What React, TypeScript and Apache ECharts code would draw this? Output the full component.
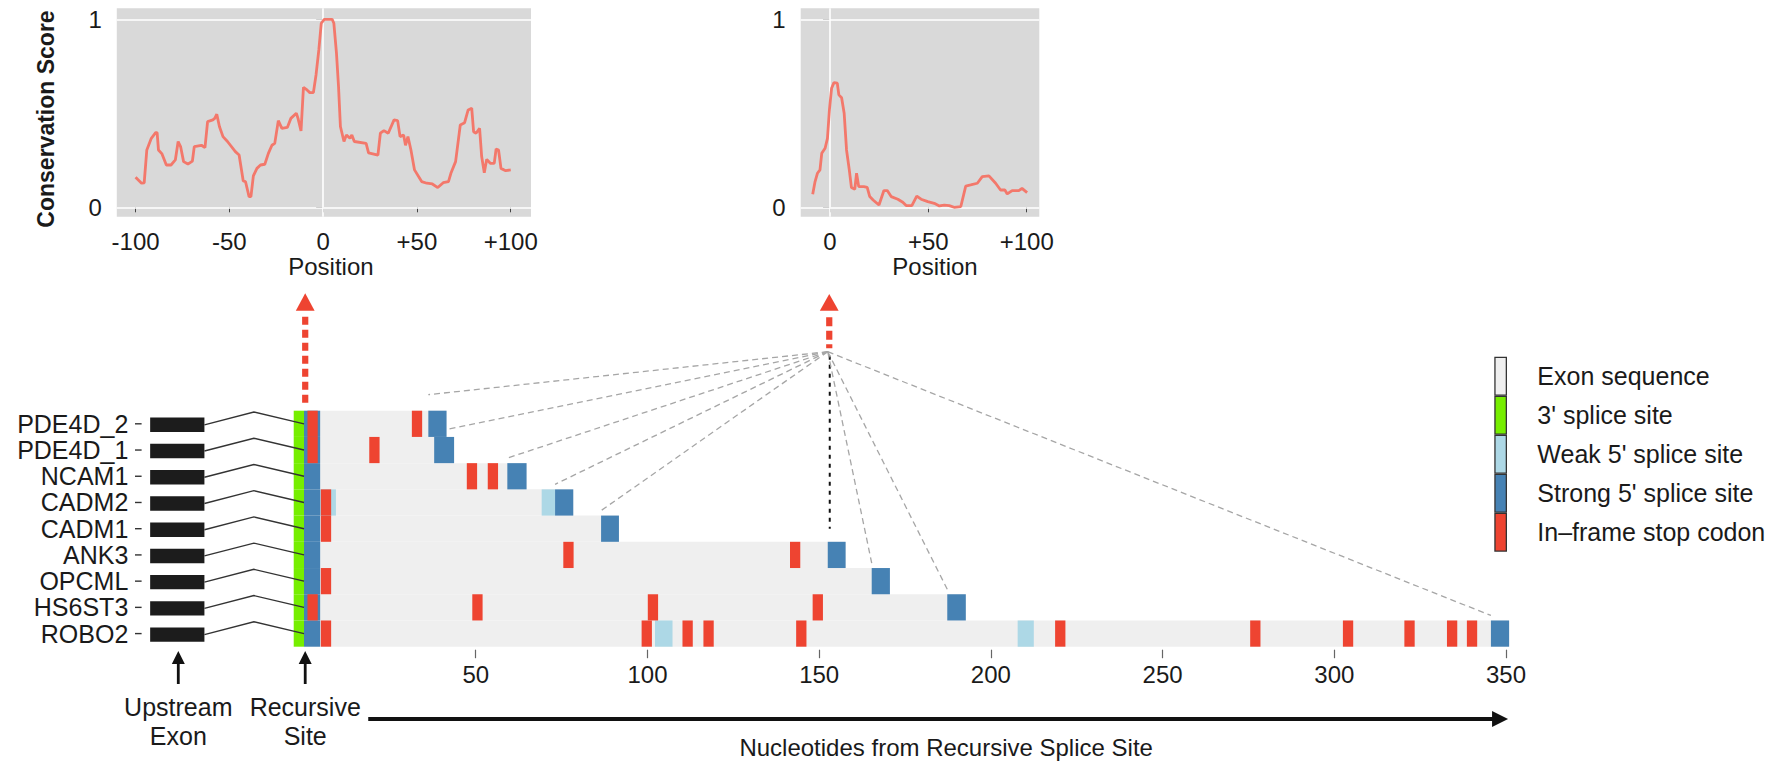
import React, { useEffect, useRef } from 'react';
import * as echarts from 'echarts';

// ---------------- data ----------------
const GENES = ['PDE4D_2', 'PDE4D_1', 'NCAM1', 'CADM2', 'CADM1', 'ANK3', 'OPCML', 'HS6ST3', 'ROBO2'];
const EXON_END = [41.5, 43.7, 64.8, 78.4, 91.7, 157.7, 170.6, 192.7, 350.9];
const STRONG_5SS_START = [36.2, 37.9, 59.2, 73.1, 86.5, 152.5, 165.3, 187.3, 345.6];
const STOP_CODON_START = [
  [1, 31.4],
  [1, 19.0],
  [47.4, 53.5],
  [4.9],
  [4.9],
  [75.5, 141.5],
  [4.9],
  [1, 49.0, 100.1, 148.1],
  [4.9, 98.3, 110.2, 116.3, 143.3, 218.7, 275.5, 302.5, 320.4, 332.8, 338.6],
];
const WEAK_5SS = [
  [],
  [],
  [],
  [[4.7, 9.3], [69.2, 73.1]],
  [],
  [],
  [],
  [],
  [[102.2, 107.3], [207.8, 212.5]],
];
const RECURSIVE_3SS = [-3, 0];
const RECURSIVE_5SS = [0, 4.7];
const CODON_LENGTH = 3;
const FOCUS_GENE = 'ANK3';
const NT_TICKS = [50, 100, 150, 200, 250, 300, 350];

const LEFT_POSITION = [
  -100, -96.8, -95.4, -94, -91.6, -89.3, -88.5, -87.8, -85.9, -83.6, -81.1, -78.8, -77.3, -76, -74.4, -72.1,
  -69.7, -68.7, -64.9, -63, -61.6, -58.8, -57.8, -56.7, -55.3, -53.4, -51, -46.8, -44.8, -42.6, -41.4, -39.5,
  -38.5, -37.2, -35.3, -33.4, -31.1, -29.2, -27.3, -25.8, -23.9, -22, -19.1, -17.2, -14.3, -13.4, -11.8, -10.5,
  -8.6, -7.1, -5.2, -3.8, -2.3, -1, 0.6, 4.8, 5.7, 7.1, 8.2, 9.2, 11.1, 12.4, 14.3, 15.3, 16.6, 22.9, 24.2,
  29.2, 30.5, 32.4, 34.7, 37.8, 39.7, 41, 42.9, 43.9, 45.2, 46.8, 48.7, 52.5, 55.3, 58.2, 61.1, 64, 66.8,
  68.1, 70.6, 73.1, 75.4, 77.3, 79.2, 80.2, 81.5, 83.4, 84.5, 85.9, 87.2, 89.1, 91.2, 92.2, 93.5, 94.8, 97.3, 100,
];
const LEFT_SCORE = [
  0.16, 0.128, 0.13, 0.305, 0.367, 0.397, 0.397, 0.305, 0.284, 0.225, 0.225, 0.252, 0.35, 0.323, 0.243, 0.23,
  0.246, 0.323, 0.33, 0.317, 0.456, 0.465, 0.473, 0.495, 0.43, 0.376, 0.35, 0.296, 0.278, 0.14, 0.137, 0.057,
  0.057, 0.167, 0.207, 0.225, 0.229, 0.287, 0.33, 0.34, 0.461, 0.42, 0.425, 0.473, 0.5, 0.473, 0.406, 0.638,
  0.624, 0.61, 0.61, 0.704, 0.837, 0.979, 1.0, 1.0, 0.979, 0.82, 0.642, 0.43, 0.35, 0.385, 0.367, 0.385, 0.35, 0.34, 0.29,
  0.278, 0.394, 0.408, 0.394, 0.465, 0.461, 0.376, 0.385, 0.33, 0.376, 0.305, 0.199, 0.137, 0.128, 0.124, 0.105, 0.131, 0.137,
  0.181, 0.243, 0.438, 0.45, 0.518, 0.527, 0.402, 0.394, 0.42, 0.27, 0.184, 0.255, 0.234, 0.234, 0.31, 0.305, 0.207, 0.195, 0.199,
];
const RIGHT_POSITION = [
  -8.8, -7.6, -6.4, -5.1, -4.2, -2.5, -1.3, -0.3, 0.8, 2, 3.7, 4.5, 5.9, 7.2, 8.4, 9.8, 10.9, 12.6, 13.5, 14.6,
  17.2, 18.9, 20.2, 21.9, 24.9, 27.4, 29.1, 31.1, 34.5, 37, 38.7, 41.6, 44.1, 46.3, 49.7, 53, 55.6, 58.1, 60.6,
  63.1, 66.5, 69, 71.5, 74.9, 77.4, 80.8, 84.2, 86.7, 88.9, 90.1, 92.6, 96, 97.6, 100.2,
];
const RIGHT_SCORE = [
  0.069, 0.137, 0.181, 0.199, 0.287, 0.314, 0.367, 0.518, 0.633, 0.663, 0.66, 0.598, 0.583, 0.5, 0.305, 0.199,
  0.105, 0.096, 0.181, 0.11, 0.11, 0.106, 0.057, 0.039, 0.012, 0.089, 0.089, 0.057, 0.043, 0.027, 0.009, 0.009,
  0.06, 0.043, 0.03, 0.021, 0.007, 0.012, 0.009, 0.0, 0.004, 0.113, 0.119, 0.128, 0.163, 0.167, 0.128, 0.092,
  0.092, 0.071, 0.089, 0.089, 0.101, 0.078,
];
const LEFT_TICKS = [-100, -50, 0, 50, 100];
const RIGHT_TICKS = [0, 50, 100];
const SCORE_TICKS = [0, 1];
const LEGEND_NAMES = [
  'Exon sequence',
  "3' splice site",
  "Weak 5' splice site",
  "Strong 5' splice site",
  'In\u2013frame stop codon',
];

// ---------------- style ----------------
const FONT = '"Liberation Sans", Arial, Helvetica, sans-serif';
const TXT = '#1a1a1a';
const C_EXON = '#efefef';
const C_3SS = '#76ee00';
const C_WEAK = '#add8e6';
const C_STRONG = '#4682b4';
const C_STOP = '#ee4431';
const C_LINE = '#f3786b';
const UPSTREAM_SPAN = [-44.8, -29.0];
const INTRON_APEX = -14.6;

const signed = (v: number) => (v > 0 ? '+' + v : String(v));

const barRender = (params: any, api: any) => {
  const s = api.value(0);
  const e = api.value(1);
  const r = api.value(2);
  const a = api.coord([s, r]);
  const b = api.coord([e, r]);
  const h = api.size([0, 1])[1];
  return {
    type: 'rect',
    shape: { x: a[0], y: a[1] - h / 2, width: Math.max(b[0] - a[0], 0.5), height: h },
    style: { fill: api.visual('color') },
  };
};

const schematicRender = (params: any, api: any) => {
  const r = api.value(2);
  const a = api.coord([api.value(0), r]);
  const b = api.coord([api.value(1), r]);
  const apex = api.coord([INTRON_APEX, r]);
  const z = api.coord([0, r]);
  const h = api.size([0, 1])[1];
  const bh = h * 0.55;
  const gl = params.coordSys.x;
  return {
    type: 'group',
    children: [
      { type: 'line', shape: { x1: gl - 7.6, y1: a[1], x2: gl - 1, y2: a[1] }, style: { stroke: '#333', lineWidth: 1.4 } },
      { type: 'rect', shape: { x: a[0], y: a[1] - bh / 2 + 1, width: b[0] - a[0], height: bh }, style: { fill: '#1c1c1c' } },
      {
        type: 'polyline',
        shape: { points: [[b[0], a[1] + 1], [apex[0], a[1] - h * 0.45], [z[0], a[1]]] },
        style: { stroke: '#333', lineWidth: 1.4, fill: 'none' },
      },
    ],
  };
};

const linkRender = (params: any, api: any) => {
  const focus = GENES.indexOf(FOCUS_GENE);
  const conv = api.coord([STRONG_5SS_START[focus], 0]);
  const h = api.size([0, 1])[1];
  const gridTop = conv[1] - h / 2;
  const cy = gridTop - 59;
  const idx = params.dataIndex;
  const end = api.coord([api.value(0), api.value(1)]);
  const gap = idx === focus ? 13 : idx === 0 ? 16 : 5;
  const ey = end[1] - h / 2 - gap;
  if (idx === focus) {
    return {
      type: 'line',
      shape: { x1: conv[0] + 2, y1: cy + 4, x2: end[0] + 2, y2: ey },
      style: { stroke: '#111', lineWidth: 2, lineDash: [4, 5] },
    };
  }
  return {
    type: 'line',
    shape: { x1: conv[0], y1: cy, x2: end[0], y2: ey },
    style: { stroke: '#a6a6a6', lineWidth: 1.3, lineDash: [6, 4] },
  };
};

const buildOption = () => {
  const exonData = GENES.map((g, i) => [0, EXON_END[i], i]);
  const ss3Data = GENES.map((g, i) => [RECURSIVE_3SS[0], RECURSIVE_3SS[1], i]);
  const weakData: number[][] = [];
  WEAK_5SS.forEach((list, i) => list.forEach((w) => weakData.push([w[0], w[1], i])));
  const strongData: number[][] = [];
  GENES.forEach((g, i) => {
    strongData.push([RECURSIVE_5SS[0], RECURSIVE_5SS[1], i]);
    strongData.push([STRONG_5SS_START[i], EXON_END[i], i]);
  });
  const stopData: number[][] = [];
  STOP_CODON_START.forEach((list, i) => list.forEach((s) => stopData.push([s, s + CODON_LENGTH, i])));
  const schematicData = GENES.map((g, i) => [UPSTREAM_SPAN[0], UPSTREAM_SPAN[1], i]);
  const linkData = GENES.map((g, i) => [STRONG_5SS_START[i], i]);

  const topX = (gridIndex: number, min: number, max: number, ticks: number[], pad: number) => ({
    gridIndex,
    type: 'value',
    min,
    max,
    axisLine: { show: false },
    axisTick: { show: true, length: 5, customValues: ticks, lineStyle: { color: '#444', width: 1 } },
    axisLabel: { customValues: ticks, formatter: (v: number) => signed(v), fontSize: 24, color: TXT, margin: 13, fontFamily: FONT },
    splitLine: { show: false },
    name: 'Position',
    nameLocation: 'middle',
    nameGap: 38,
    nameTextStyle: { fontSize: 24, color: TXT, fontFamily: FONT, padding: [0, 0, 0, pad] },
  });
  const topY = (gridIndex: number, withName: boolean) => ({
    gridIndex,
    type: 'value',
    min: -0.05,
    max: 1.0585,
    axisLine: { show: false },
    axisTick: { show: true, length: 7, customValues: SCORE_TICKS, lineStyle: { color: '#444', width: 1 } },
    axisLabel: { customValues: SCORE_TICKS, fontSize: 24, color: TXT, margin: 15, fontFamily: FONT },
    splitLine: { show: false },
    ...(withName
      ? {
          name: 'Conservation Score',
          nameLocation: 'middle',
          nameRotate: 90,
          nameGap: 59,
          nameTextStyle: { fontSize: 23, fontWeight: 'bold', color: TXT, fontFamily: FONT, padding: [0, 13, 0, 0] },
        }
      : {}),
  });
  const whiteLines = () => ({
    silent: true,
    symbol: 'none',
    z: 1,
    label: { show: false },
    lineStyle: { color: '#ffffff', width: 1.6, type: 'solid' },
    data: [{ yAxis: 0 }, { yAxis: 1 }, { xAxis: 0 }],
  });
  const bars = (name: string, color: string, data: number[][]) => ({
    type: 'custom',
    name,
    xAxisIndex: 2,
    yAxisIndex: 2,
    silent: true,
    itemStyle: { color },
    renderItem: barRender,
    encode: { x: [0, 1], y: 2 },
    data,
  });

  return {
    animation: false,
    textStyle: { fontFamily: FONT },
    grid: [
      { left: 116.8, top: 8.3, width: 414.2, height: 208.4, show: true, backgroundColor: '#d9d9d9', borderWidth: 0, outerBoundsMode: 'none' },
      { left: 800.7, top: 8.3, width: 238.6, height: 208.4, show: true, backgroundColor: '#d9d9d9', borderWidth: 0, outerBoundsMode: 'none' },
      { left: 142.6, top: 410.7, width: 1380.6, height: 236, outerBoundsMode: 'none' },
    ],
    xAxis: [
      topX(0, -110, 110.8, LEFT_TICKS, 14),
      topX(1, -14.9, 106.4, RIGHT_TICKS, 30),
      {
        gridIndex: 2,
        type: 'value',
        min: -47,
        max: 355,
        offset: 3,
        axisLine: { show: false },
        axisTick: { show: true, length: 8.5, customValues: NT_TICKS, lineStyle: { color: '#666', width: 1.2 } },
        axisLabel: { customValues: NT_TICKS, fontSize: 24, color: TXT, margin: 13, fontFamily: FONT },
        splitLine: { show: false },
      },
    ],
    yAxis: [
      topY(0, true),
      topY(1, false),
      {
        gridIndex: 2,
        type: 'category',
        data: GENES,
        inverse: true,
        axisLine: { show: false },
        axisTick: { show: false },
        axisLabel: { interval: 0, fontSize: 25, color: TXT, margin: 14.3, fontFamily: FONT },
        splitLine: { show: false },
      },
    ],
    legend: {
      orient: 'vertical',
      left: 1494.3,
      top: 356.7,
      padding: 0,
      itemWidth: 11.4,
      itemHeight: 37.7,
      itemGap: 0,
      icon: 'rect',
      selectedMode: false,
      itemStyle: { borderColor: '#333', borderWidth: 1.3 },
      textStyle: { fontSize: 25, color: TXT, fontFamily: FONT, padding: [0, 0, 0, 26] },
      data: LEGEND_NAMES,
    },
    series: [
      {
        type: 'line',
        name: 'left conservation',
        xAxisIndex: 0,
        yAxisIndex: 0,
        showSymbol: false,
        z: 3,
        lineStyle: { color: C_LINE, width: 2.8 },
        itemStyle: { color: C_LINE },
        data: LEFT_POSITION.map((p, i) => [p, LEFT_SCORE[i]]),
        markLine: whiteLines(),
      },
      {
        type: 'line',
        name: 'right conservation',
        xAxisIndex: 1,
        yAxisIndex: 1,
        showSymbol: false,
        z: 3,
        lineStyle: { color: C_LINE, width: 2.8 },
        itemStyle: { color: C_LINE },
        data: RIGHT_POSITION.map((p, i) => [p, RIGHT_SCORE[i]]),
        markLine: whiteLines(),
      },
      {
        type: 'custom',
        name: 'links',
        xAxisIndex: 2,
        yAxisIndex: 2,
        silent: true,
        renderItem: linkRender,
        encode: { x: 0, y: 1 },
        data: linkData,
      },
      bars(LEGEND_NAMES[0], C_EXON, exonData),
      bars(LEGEND_NAMES[1], C_3SS, ss3Data),
      bars(LEGEND_NAMES[2], C_WEAK, weakData),
      bars(LEGEND_NAMES[3], C_STRONG, strongData),
      bars(LEGEND_NAMES[4], C_STOP, stopData),
      {
        type: 'custom',
        name: 'upstream exon',
        xAxisIndex: 2,
        yAxisIndex: 2,
        silent: true,
        renderItem: schematicRender,
        encode: { x: [0, 1], y: 2 },
        data: schematicData,
      },
    ],
  };
};

const buildGraphic = (px: (v: number) => number) => {
  const x0 = px(RECURSIVE_5SS[0]) + 1.2;
  const xf = px(STRONG_5SS_START[GENES.indexOf(FOCUS_GENE)]) + 1.5;
  const xu = px((UPSTREAM_SPAN[0] + UPSTREAM_SPAN[1]) / 2) + 1;
  const xs = px(18.7);
  const xe = px(350.6);
  const els: any[] = [];
  const redArrow = (x: number, tip: number, base: number, s1: number, s2: number, dash: number[]) => {
    els.push({ type: 'polygon', silent: true, shape: { points: [[x, tip], [x - 9.4, base], [x + 9.4, base]] }, style: { fill: C_STOP } });
    els.push({ type: 'line', silent: true, shape: { x1: x, y1: s1, x2: x, y2: s2 }, style: { stroke: C_STOP, lineWidth: 6.2, lineDash: dash } });
  };
  redArrow(x0, 293.3, 310.7, 316.7, 403.3, [8, 5]);
  redArrow(xf, 294, 310.7, 317.3, 348.3, [9, 4.5]);
  const blackArrow = (x: number) => {
    els.push({ type: 'line', silent: true, shape: { x1: x, y1: 684, x2: x, y2: 661 }, style: { stroke: '#111', lineWidth: 2.8 } });
    els.push({ type: 'polygon', silent: true, shape: { points: [[x, 651], [x - 6.5, 664], [x + 6.5, 664]] }, style: { fill: '#111' } });
  };
  blackArrow(xu);
  blackArrow(x0);
  const text = (x: number, y: number, s: string, size: number) => {
    els.push({
      type: 'text',
      silent: true,
      x,
      y,
      style: {
        text: s,
        fontSize: size,
        fontFamily: FONT,
        fill: TXT,
        textAlign: 'center',
        textVerticalAlign: 'middle',
        align: 'center',
        verticalAlign: 'middle',
      },
    });
  };
  text(xu, 707, 'Upstream', 25);
  text(xu, 735.5, 'Exon', 25);
  text(x0, 707, 'Recursive', 25);
  text(x0, 735.5, 'Site', 25);
  els.push({ type: 'line', silent: true, shape: { x1: xs, y1: 719, x2: xe - 14, y2: 719 }, style: { stroke: '#111', lineWidth: 4 } });
  els.push({ type: 'polygon', silent: true, shape: { points: [[xe, 719], [xe - 16, 711], [xe - 16, 727]] }, style: { fill: '#111' } });
  text((xs + xe) / 2 + 8, 747.5, 'Nucleotides from Recursive Splice Site', 24);
  return els;
};

export default function App() {
  const ref = useRef<HTMLDivElement>(null);
  useEffect(() => {
    if (!ref.current) return;
    const chart = echarts.init(ref.current, null, { renderer: 'svg' });
    chart.setOption(buildOption() as any);
    const px = (v: number) => chart.convertToPixel({ xAxisIndex: 2 } as any, v) as unknown as number;
    chart.setOption({ graphic: buildGraphic(px) } as any);
    return () => chart.dispose();
  }, []);
  return (
    <div
      ref={ref}
      style={{ position: 'absolute', left: 0, top: 0, width: 1792, height: 764, background: '#ffffff' }}
    />
  );
}
